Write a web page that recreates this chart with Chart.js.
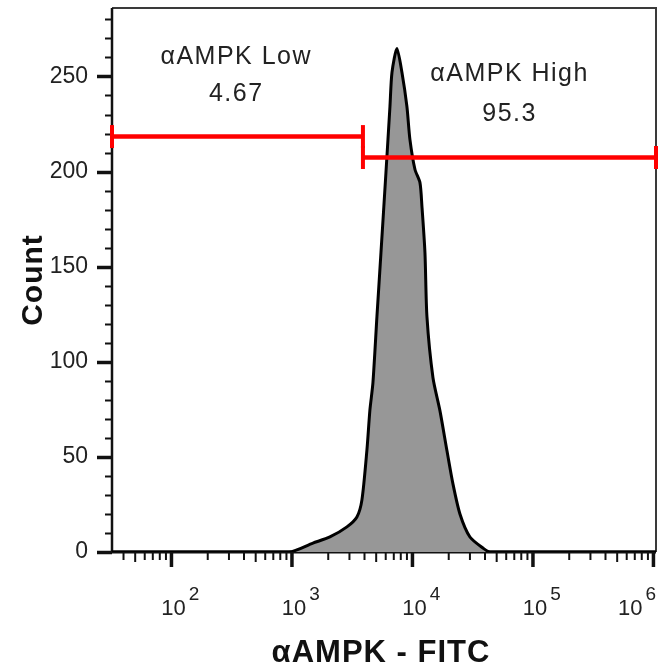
<!DOCTYPE html>
<html><head><meta charset="utf-8">
<script src="https://cdn.jsdelivr.net/npm/chart.js@4.4.0/dist/chart.umd.min.js"></script>
<style>html,body{margin:0;padding:0;background:#fff;}#wrap{width:659px;height:668px;position:relative;}</style>
</head><body><div id="wrap"><canvas id="c"></canvas></div>
<script>
// ---- data ----
const fluorescence = [32.1, 944, 1493, 2065, 2858, 3459, 3808, 4190, 4436, 4698, 5072, 5480, 6026, 6505, 6761, 7435, 8182, 8995, 9531, 10495, 11541, 11990, 12697, 13190, 14801, 16919, 19340, 21680, 24780, 30000, 38450, 43980, 1050000];
const counts = [0, 0, 4.7, 7.9, 13.2, 18.4, 27.4, 53.7, 74.7, 88.9, 123.7, 157.5, 199.5, 234.2, 252.1, 264.7, 252.1, 234.2, 216.8, 201.1, 194.2, 181.6, 157.4, 123.7, 91.6, 74.2, 53.2, 35.8, 20.0, 7.9, 2.1, 0, 0];
const gateNames = ['\u03b1AMPK Low', '\u03b1AMPK High'];
const gatePercents = ['4.67', '95.3'];
const gateStart = [32.1, 3882];
const gateEnd = [3882, 1050000];
const gateLevel = [218.4, 207.4];
const xMajorTicks = [100, 1000, 10000, 100000, 1000000];
const xExponents = ['2', '3', '4', '5', '6'];
const yMajorTicks = [0, 50, 100, 150, 200, 250];
const xTitle = '\u03b1AMPK - FITC';
const yTitle = 'Count';

const X_MIN = 32.1, X_MAX = 1050000, Y_MIN = 0, Y_MAX = 286;
const FONT = "Arial, 'Liberation Sans', sans-serif";
// label anchors (data coordinates)
const labelAnchors = [{x: 345, nameY: 256.8, pctY: 237.1}, {x: 64000, nameY: 247.4, pctY: 226.6}];

const decor = {
  id: 'decor',
  beforeDatasetsDraw(chart) {
    const {ctx, chartArea: a} = chart;
    ctx.save();
    ctx.lineCap = 'butt';
    // frame
    ctx.strokeStyle = '#3a3a3a'; ctx.lineWidth = 2;
    ctx.beginPath(); ctx.moveTo(a.left, a.top); ctx.lineTo(a.right, a.top); ctx.lineTo(a.right, a.bottom); ctx.stroke();
    ctx.strokeStyle = '#111'; ctx.lineWidth = 2.5;
    ctx.beginPath(); ctx.moveTo(a.left, a.top); ctx.lineTo(a.left, a.bottom + 1); ctx.stroke();
    ctx.lineWidth = 3;
    ctx.beginPath(); ctx.moveTo(a.left, a.bottom); ctx.lineTo(a.right, a.bottom); ctx.stroke();
    // y ticks
    const ys = chart.scales.y;
    ys.ticks.forEach(t => {
      if (t.value % 10 !== 0) return;
      const py = Math.round(ys.getPixelForValue(t.value)) + 0.5;
      const major = yMajorTicks.includes(t.value);
      ctx.lineWidth = major ? 3.5 : 2;
      ctx.beginPath(); ctx.moveTo(a.left - (major ? 15 : 7), py); ctx.lineTo(a.left, py); ctx.stroke();
    });
    // x ticks
    const xs = chart.scales.x;
    xs.ticks.forEach(t => {
      const px = xs.getPixelForValue(t.value);
      const major = xMajorTicks.includes(t.value);
      const lead = Math.round(t.value / Math.pow(10, Math.floor(Math.log10(t.value) + 1e-9)));
      const len = major ? 15 : (lead === 5 ? 10 : 8);
      ctx.lineWidth = major ? 3.5 : 2;
      ctx.beginPath(); ctx.moveTo(px, a.bottom); ctx.lineTo(px, a.bottom + len); ctx.stroke();
    });
    ctx.restore();
  },
  afterDraw(chart) {
    const {ctx, chartArea: a} = chart;
    const xs = chart.scales.x, ys = chart.scales.y;
    ctx.save();
    ctx.fillStyle = '#222';
    // x tick labels with superscripts
    xMajorTicks.forEach((v, i) => {
      const px = xs.getPixelForValue(v);
      ctx.font = '22px ' + FONT;
      const w10 = ctx.measureText('10').width;
      ctx.font = '19px ' + FONT;
      const we = ctx.measureText(xExponents[i]).width;
      let left = px + 2 - w10 / 2;
      const total = w10 + 3 + we;
      if (left + total > a.right) left = a.right - total;
      ctx.textAlign = 'left'; ctx.textBaseline = 'alphabetic';
      ctx.font = '22px ' + FONT;
      ctx.fillText('10', left, 615);
      ctx.font = '19px ' + FONT;
      ctx.fillText(xExponents[i], left + w10 + 3, 600);
    });
    // gate labels
    ctx.font = '25px ' + FONT;
    ctx.textAlign = 'center';
    try { ctx.letterSpacing = '1.5px'; } catch (e) {}
    gateNames.forEach((n, i) => {
      const an = labelAnchors[i];
      const px = xs.getPixelForValue(an.x);
      ctx.fillText(n, px, ys.getPixelForValue(an.nameY));
      ctx.fillText(gatePercents[i], px, ys.getPixelForValue(an.pctY));
    });
    // axis titles
    ctx.fillStyle = '#111';
    ctx.font = 'bold 31px ' + FONT;
    try { ctx.letterSpacing = '1px'; } catch (e) {}
    ctx.textAlign = 'center';
    ctx.fillText(xTitle, (a.left + a.right) / 2 - 3, 662);
    ctx.translate(42, 280);
    ctx.rotate(-Math.PI / 2);
    ctx.font = 'bold 30px ' + FONT;
    ctx.fillText(yTitle, 0, 0);
    ctx.restore();
  }
};

const datasets = [{
  label: 'histogram',
  data: fluorescence.map((x, i) => ({x, y: counts[i]})),
  borderColor: '#000',
  borderWidth: 3,
  backgroundColor: '#979797',
  fill: 'origin',
  pointRadius: 0,
  tension: 0.25,
  order: 2
}].concat(gateNames.map((n, i) => ({
  label: n,
  data: [{x: gateStart[i], y: gateLevel[i]}, {x: gateEnd[i], y: gateLevel[i]}],
  borderColor: '#ff0000',
  borderWidth: 4.5,
  pointStyle: 'line',
  rotation: 90,
  pointRadius: 11.5,
  pointBorderWidth: 4,
  pointBorderColor: '#ff0000',
  pointBackgroundColor: '#ff0000',
  fill: false,
  clip: false,
  order: 0
})));

function zeroPad(s) { s.paddingTop = 0; s.paddingBottom = 0; s.paddingLeft = 0; s.paddingRight = 0; }

new Chart(document.getElementById('c'), {
  type: 'line',
  data: {datasets},
  options: {
    responsive: true,
    maintainAspectRatio: false,
    animation: false,
    layout: {autoPadding: false, padding: {left: 0, top: 8, right: 3, bottom: 0}},
    plugins: {legend: {display: false}, tooltip: {enabled: false}},
    scales: {
      x: {
        type: 'logarithmic', min: X_MIN, max: X_MAX,
        afterBuildTicks: s => {
          const t = [];
          for (let e = 1; e <= 6; e++) for (let k = 1; k <= 9; k++) {
            const v = k * Math.pow(10, e);
            if (v >= X_MIN && v <= X_MAX) t.push({value: v});
          }
          s.ticks = t;
        },
        ticks: {display: false},
        grid: {display: false},
        border: {display: false},
        afterFit: s => { s.height = 116; zeroPad(s); }
      },
      y: {
        min: Y_MIN, max: Y_MAX,
        ticks: {
          stepSize: 10, includeBounds: false, autoSkip: false, padding: 24,
          callback: v => yMajorTicks.includes(v) ? String(v) : '',
          font: {family: FONT, size: 23}, color: '#222'
        },
        grid: {display: false, drawTicks: false},
        border: {display: false},
        afterFit: s => { s.width = 112; zeroPad(s); }
      }
    }
  },
  plugins: [decor]
});
</script>
</body></html>
